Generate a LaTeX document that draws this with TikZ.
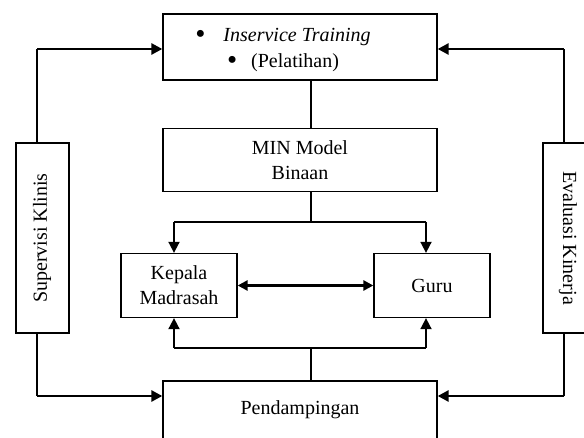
\documentclass[tikz,border=0pt]{standalone}
\usepackage{fontspec}
\setmainfont{Liberation Serif}
\usetikzlibrary{arrows.meta,calc}
\newcommand{\bigbul}{\raisebox{-2.2pt}{\scalebox{1.45}{\textbullet}}}
\begin{document}
\begin{tikzpicture}[x=1pt,y=-1pt,
  box/.style={draw,line width=1.3pt,inner sep=0pt,align=center,font=\fontsize{20}{25}\selectfont},
  txt/.style={inner sep=0pt,align=center,font=\fontsize{20}{26}\selectfont},
  thin/.style={line width=1.3pt},
  mid/.style={line width=1.8pt},
  thick/.style={line width=2.6pt},
  arr/.style={-{Triangle[length=11pt,width=11pt]}},
  darr/.style={{Triangle[length=10pt,width=10pt]}-{Triangle[length=10pt,width=10pt]}}]
\useasboundingbox (0,0) rectangle (584,438);
\begin{scope}
\clip (0,0) rectangle (584,438);
% boxes
\node[box,minimum width=274pt,minimum height=66pt] (top) at (300,47) {};
\node[txt] (toptxt) at (283,50) {\bigbul\hspace{18pt}\textit{Inservice Training}\\\bigbul\hspace{14pt}(Pelatihan)};
\node[box,minimum width=274pt,minimum height=63pt] (min) at (300,160) {MIN Model\\Binaan};
\node[box,minimum width=116pt,minimum height=64pt] (kep) at (179,285.5) {Kepala\\Madrasah};
\node[box,minimum width=116pt,minimum height=64pt] (guru) at (432,285.5) {Guru};
\node[box,minimum width=274pt,minimum height=62pt] (pend) at (300,412) {};
\node[txt] (pendtxt) at (300,410) {Pendampingan};
\node[box,minimum width=53pt,minimum height=190pt] (sup) at (42.5,238) {};
\node[txt,rotate=90] (suptxt) at (42,238) {Supervisi Klinis};
\node[box,minimum width=53pt,minimum height=190pt] (eva) at (569.5,238) {};
\node[txt,rotate=-90] (evatxt) at (568,238) {Evaluasi Kinerja};
% coordinates
\coordinate (lx) at (37,49);
\coordinate (rx) at (564,49);
\coordinate (lb) at (37,396);
\coordinate (rb) at (564,396);
\coordinate (vx) at (311,222);
\coordinate (vb) at (311,348);
\coordinate (ka) at (174,222);
\coordinate (ga) at (426,222);
\coordinate (kb) at (174,348);
\coordinate (gb) at (426,348);
% side connectors
\draw[thin] (lx |- sup.north) -- (lx);
\draw[thick,arr] (lx) -- (lx -| top.west);
\draw[thin] (rx |- eva.north) -- (rx);
\draw[thick,arr] (rx) -- (rx -| top.east);
\draw[thin] (lx |- sup.south) -- (lb);
\draw[thick,arr] (lb) -- (lb -| pend.west);
\draw[thin] (rx |- eva.south) -- (rb);
\draw[thick,arr] (rb) -- (rb -| pend.east);
% centre connectors
\draw[thin] (vx |- top.south) -- (vx |- min.north);
\draw[thin] (vx |- min.south) -- (vx);
\draw[thin] (ka) -- (ga);
\draw[mid,arr] (ka) -- (ka |- kep.north);
\draw[mid,arr] (ga) -- (ga |- guru.north);
\draw[thick,darr] (kep.east) -- (guru.west);
\draw[thin] (vx |- pend.north) -- (vb);
\draw[thin] (kb) -- (gb);
\draw[mid,arr] (kb) -- (kb |- kep.south);
\draw[mid,arr] (gb) -- (gb |- guru.south);
\end{scope}
\end{tikzpicture}
\end{document}
